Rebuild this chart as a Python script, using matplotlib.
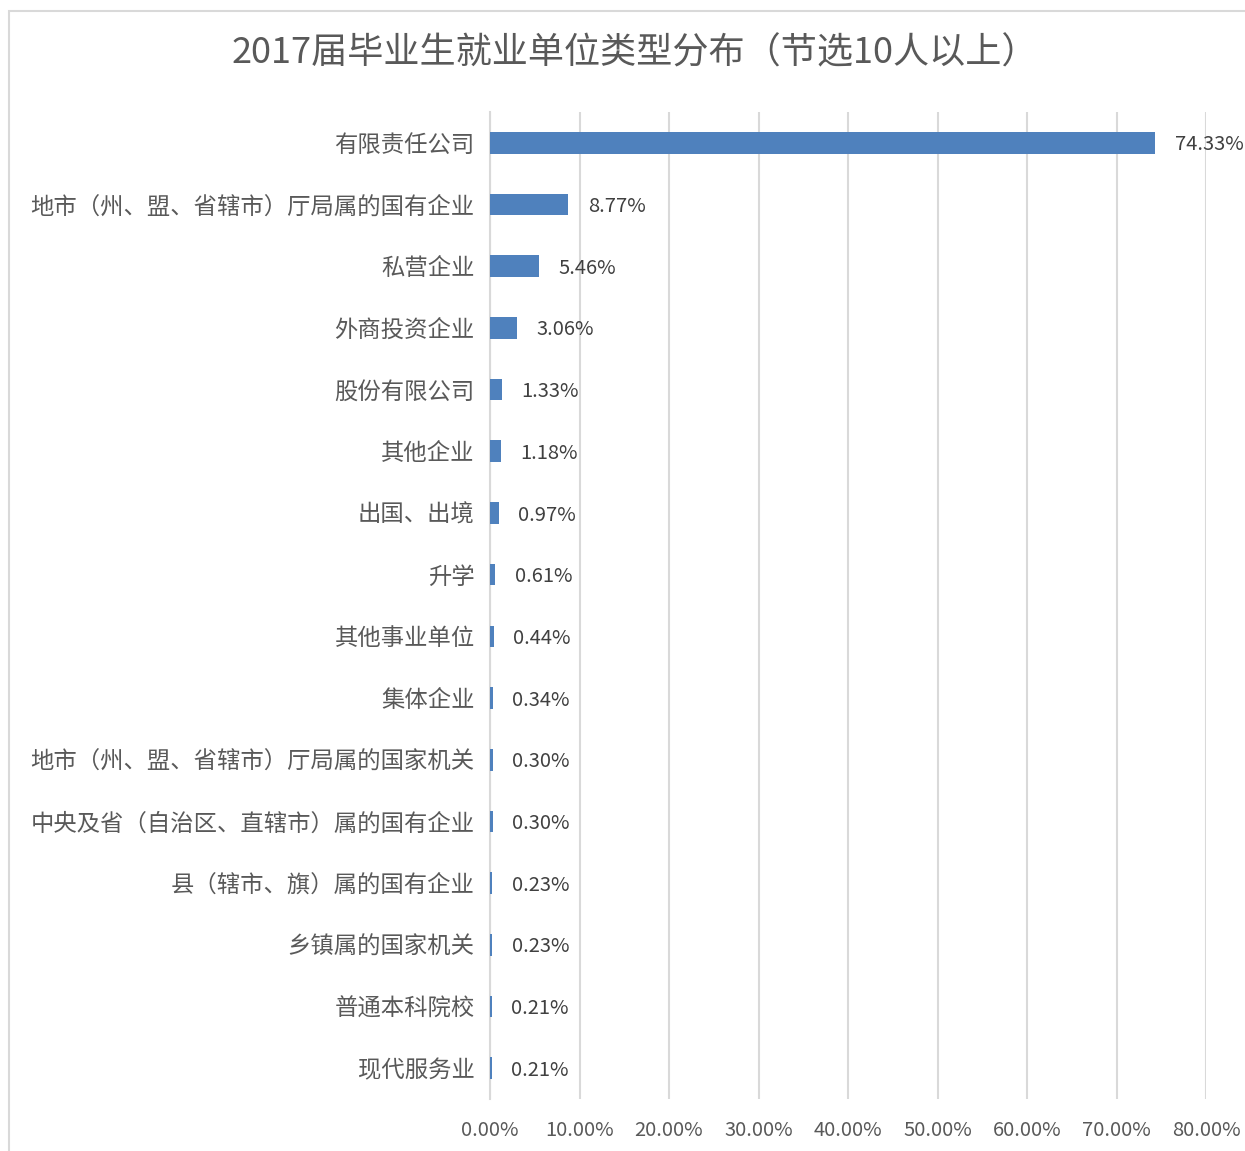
import matplotlib.pyplot as plt
from matplotlib.patches import Rectangle

plt.rcParams['font.family'] = ['Noto Sans CJK SC', 'DejaVu Sans']

categories = [
    "有限责任公司",
    "地市（州、盟、省辖市）厅局属的国有企业",
    "私营企业",
    "外商投资企业",
    "股份有限公司",
    "其他企业",
    "出国、出境",
    "升学",
    "其他事业单位",
    "集体企业",
    "地市（州、盟、省辖市）厅局属的国家机关",
    "中央及省（自治区、直辖市）属的国有企业",
    "县（辖市、旗）属的国有企业",
    "乡镇属的国家机关",
    "普通本科院校",
    "现代服务业",
]
values = [74.33, 8.77, 5.46, 3.06, 1.33, 1.18, 0.97, 0.61, 0.44, 0.34,
          0.30, 0.30, 0.23, 0.23, 0.21, 0.21]
xticks = [0, 10, 20, 30, 40, 50, 60, 70, 80]

fig = plt.figure(figsize=(12.45, 11.51), dpi=100)
ax = fig.add_axes([490 / 1245, 1 - 1099 / 1151, (1206 - 490) / 1245, (1099 - 112) / 1151])

# chart frame (Excel style)
fig.patches.append(Rectangle((9 / 1245, -0.01), 1.02, 1 - 11 / 1151 + 0.01,
                             transform=fig.transFigure, fill=False,
                             edgecolor="#d9d9d9", linewidth=1.5))

y = list(range(len(categories)))
ax.barh(y, values, height=0.35, color="#4f81bd", zorder=3)
for yi, v in zip(y, values):
    ax.annotate(f"{v:.2f}%", (v, yi), xytext=(14, -1.5), textcoords="offset points",
                ha="left", va="center", fontsize=14.5, color="#404040", zorder=4)

ax.set_xlim(0, 80)
ax.set_ylim(len(categories) - 0.5, -0.5)
ax.set_yticks(y)
ax.set_yticklabels(categories, fontsize=16.8, color="#595959")
ax.set_xticks(xticks)
ax.set_xticklabels([f"{t:.2f}%" for t in xticks], fontsize=14.5, color="#595959")
ax.tick_params(length=0)
ax.tick_params(axis="y", pad=11)
ax.tick_params(axis="x", pad=15)
ax.grid(axis="x", color="#d9d9d9", linewidth=1.5, zorder=0)
for s in ["top", "right", "bottom"]:
    ax.spines[s].set_visible(False)
ax.spines["left"].set_color("#d9d9d9")
ax.spines["left"].set_linewidth(1.5)

fig.text(635 / 1245, 1 - 53 / 1151, "2017届毕业生就业单位类型分布（节选10人以上）",
         ha="center", va="center", fontsize=26, color="#595959")

fig.savefig("out.png", dpi=100)
